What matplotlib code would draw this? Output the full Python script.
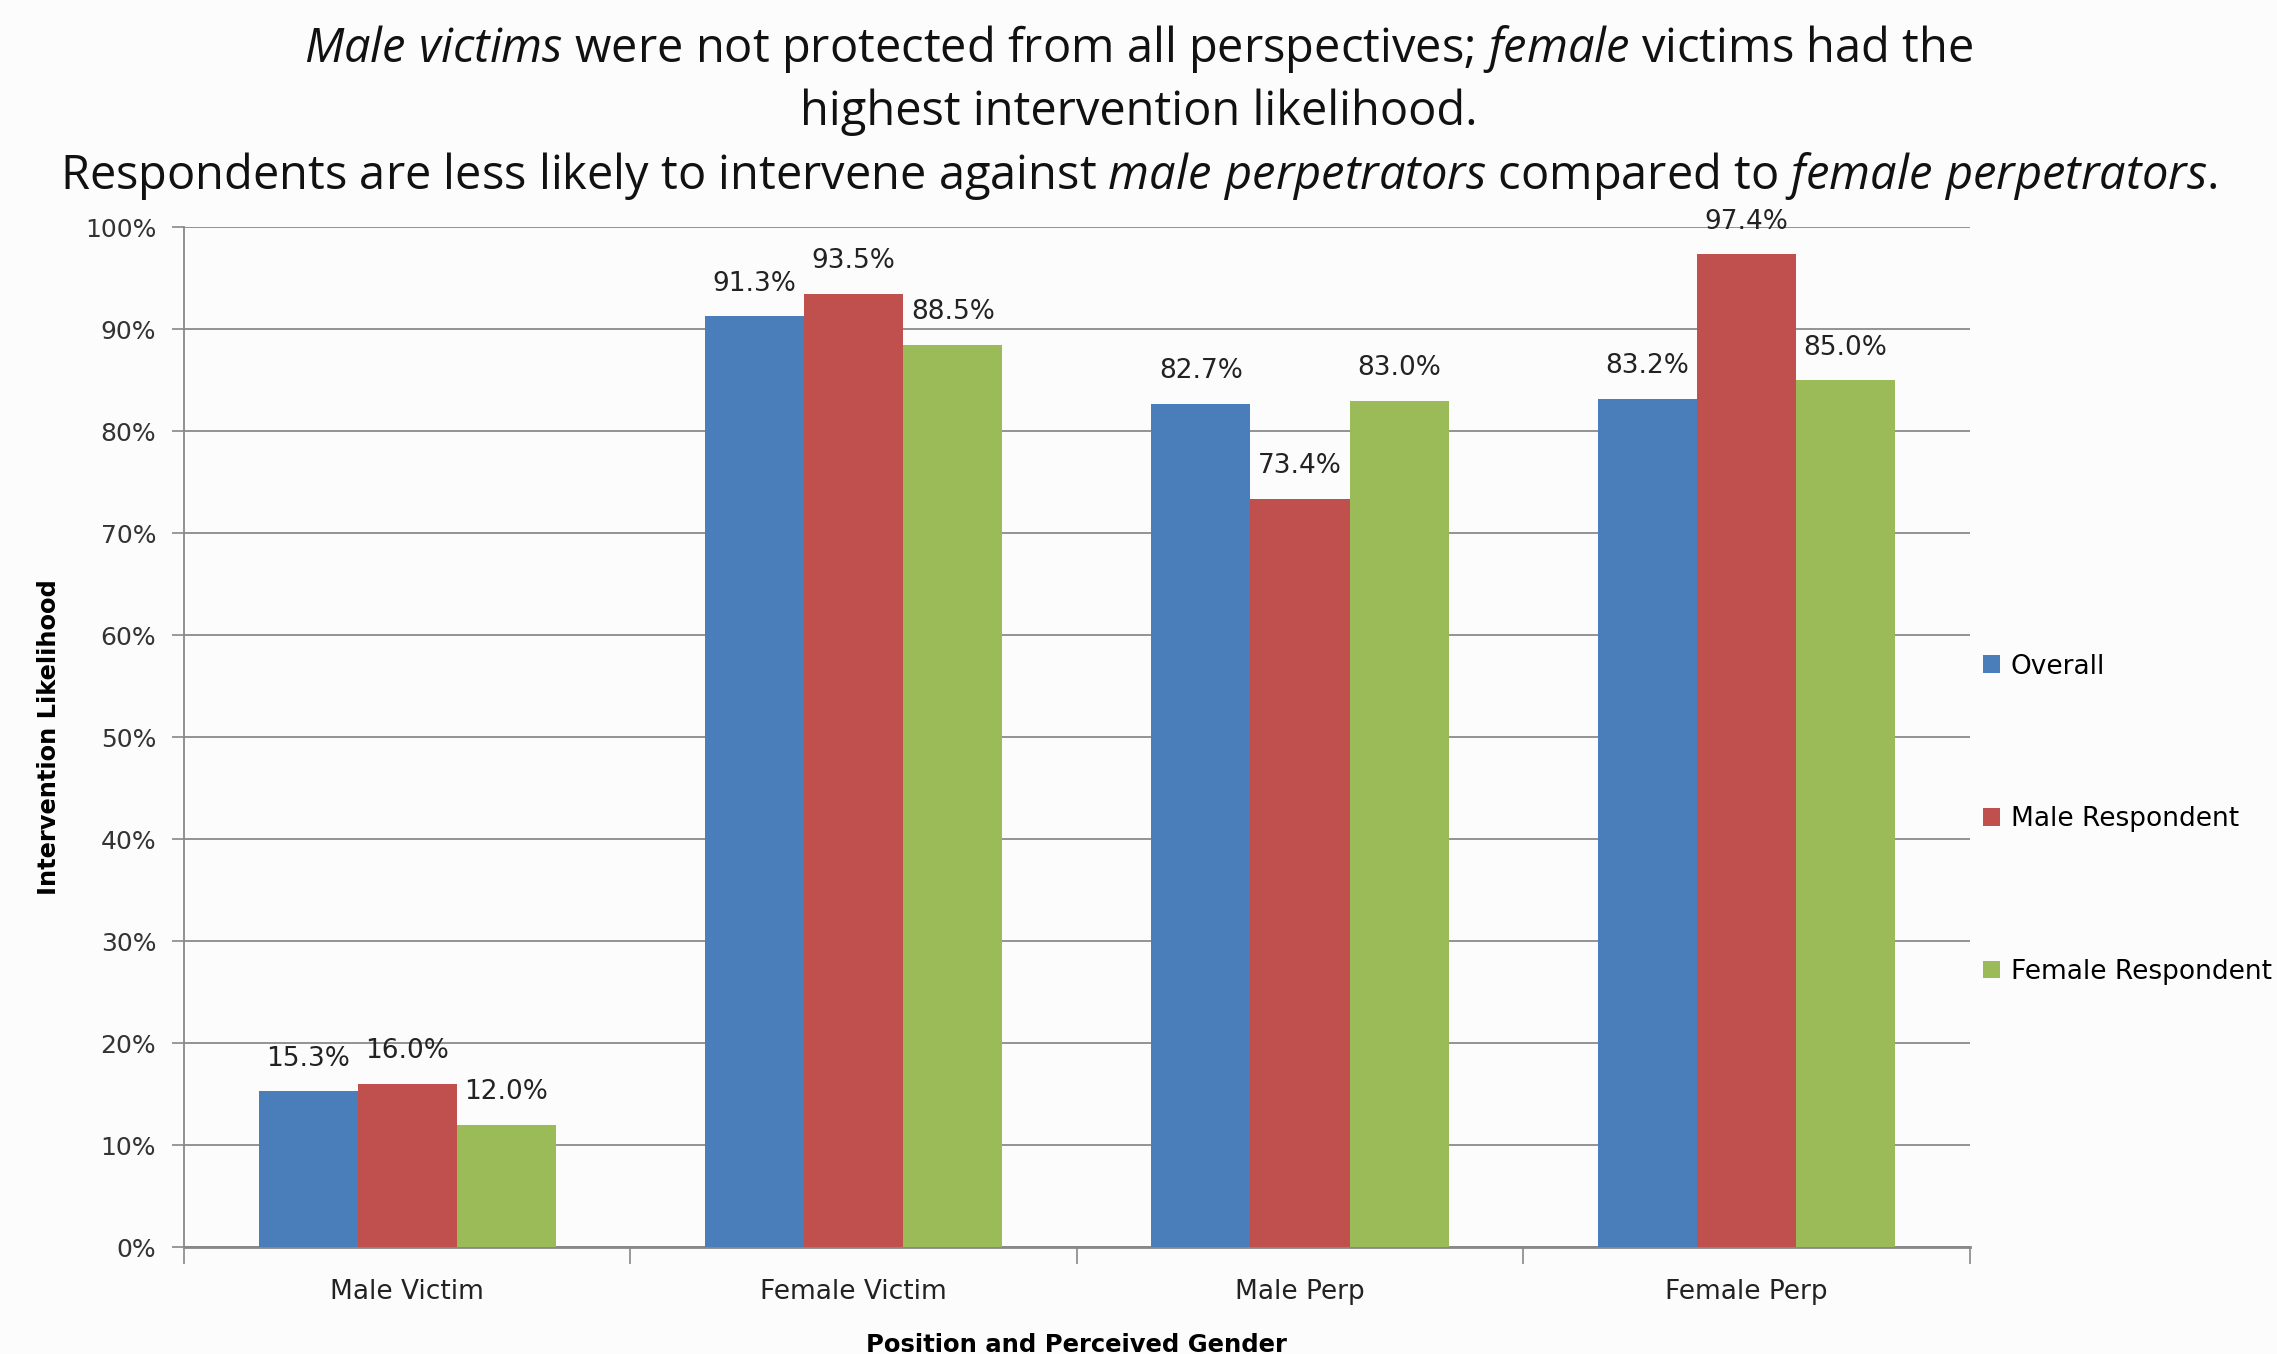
import matplotlib
matplotlib.use("Agg")
import matplotlib.pyplot as plt
import numpy as np

categories = ["Male Victim", "Female Victim", "Male Perp", "Female Perp"]
series_names = ["Overall", "Male Respondent", "Female Respondent"]
overall = [15.3, 91.3, 82.7, 83.2]
male_resp = [16.0, 93.5, 73.4, 97.4]
female_resp = [12.0, 88.5, 83.0, 85.0]
y_ticks = list(range(0, 101, 10))

colors = ["#4a7ebb", "#c0504d", "#9bbb59"]

plt.rcParams["mathtext.fontset"] = "custom"
plt.rcParams["mathtext.rm"] = "Open Sans"
plt.rcParams["mathtext.it"] = "Open Sans:italic"

fig = plt.figure(figsize=(22.77, 13.54), dpi=100)
fig.patch.set_facecolor("#fcfcfc")
ax = fig.add_axes([0.0808, 0.079, 0.865 - 0.0808, 0.832 - 0.079])
ax.set_facecolor("none")

x = np.arange(len(categories))
width = 0.222
for i, (name, vals) in enumerate(zip(series_names, [overall, male_resp, female_resp])):
    bars = ax.bar(x + (i - 1) * width, vals, width, color=colors[i], label=name, zorder=3)
    for b, v in zip(bars, vals):
        ax.annotate(f"{v:.1f}%", (b.get_x() + b.get_width() / 2, v),
                    xytext=(0, 14), textcoords="offset points",
                    ha="center", va="bottom", fontsize=19, color="#222222",
                    annotation_clip=False, zorder=4)

ax.set_xlim(-0.5, len(categories) - 0.5)
ax.set_ylim(0, 100)
ax.set_yticks(y_ticks)
ax.set_yticklabels([f"{t}%" for t in y_ticks], fontsize=18, color="#333333")
ax.set_xticks(x)
ax.set_xticklabels(categories, fontsize=19, color="#222222")
ax.set_xticks(np.arange(-0.5, len(categories)), minor=True)
ax.tick_params(axis="x", which="major", length=0, pad=23)
ax.tick_params(axis="x", which="minor", length=12, width=1.2, color="#888888")
ax.tick_params(axis="y", length=9, width=1.2, color="#888888", pad=11)

ax.grid(axis="y", color="#8a8a8a", linewidth=1.3, zorder=0)
for side in ["top", "right"]:
    ax.spines[side].set_visible(False)
ax.spines["left"].set_color("#888888")
ax.spines["left"].set_linewidth(1.3)
ax.spines["bottom"].set_color("#888888")
ax.spines["bottom"].set_linewidth(2)

ax.set_ylabel("Intervention Likelihood", fontsize=17.4, fontweight="bold", labelpad=17)
ax.set_xlabel("Position and Perceived Gender", fontsize=17.5, fontweight="bold", labelpad=20)

fig.legend(loc="center left", bbox_to_anchor=(0.871, 0.395), frameon=False,
           fontsize=19, labelspacing=4.8, handlelength=0.65, handleheight=0.65,
           handletextpad=0.4, borderpad=0, borderaxespad=0)

title_font = dict(fontsize=33.8, family="Open Sans", ha="center", va="center", color="#111111")
fig.text(0.5, 0.964, r"$\mathit{Male\ victims}$ were not protected from all perspectives; "
         r"$\mathit{female}$ victims had the", **title_font)
fig.text(0.5, 0.917, "highest intervention likelihood.", **title_font)
fig.text(0.5, 0.870, r"Respondents are less likely to intervene against $\mathit{male\ perpetrators}$ "
         r"compared to $\mathit{female\ perpetrators}$.", **title_font)

fig.savefig("out.png", dpi=100, facecolor=fig.get_facecolor())
